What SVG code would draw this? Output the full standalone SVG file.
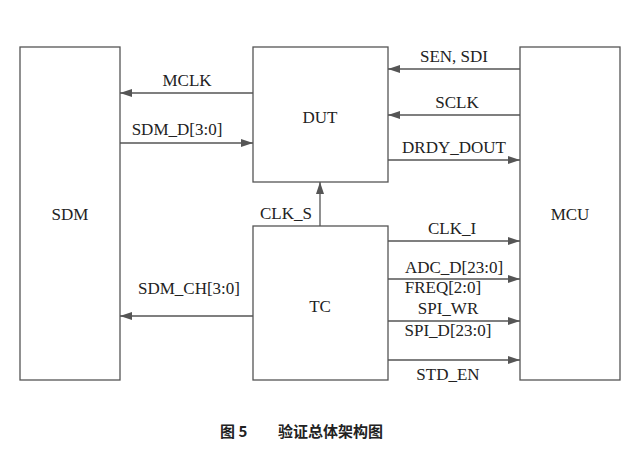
<svg xmlns="http://www.w3.org/2000/svg" width="634" height="476" viewBox="0 0 634 476">
<style>
.b{fill:#fff;stroke:#555;stroke-width:1.3}
.l{stroke:#555;stroke-width:1.3;fill:none;marker-end:url(#a)}
text{font-family:'Liberation Serif','Times New Roman','DejaVu Serif',serif;font-size:17px;fill:#222}
.c{text-anchor:middle}
.cap{font-family:'Noto Sans CJK SC',sans-serif;font-weight:bold;font-size:15px}
</style>
<defs><marker id="a" markerWidth="12" markerHeight="8" refX="12" refY="4" orient="auto" markerUnits="userSpaceOnUse"><path d="M0,0L12,4L0,8z" fill="#555"/></marker></defs>
<rect width="634" height="476" fill="#fff"/>
<g id="SDM"><rect class="b" x="20" y="47" width="100" height="333"/><text class="c" x="70" y="220">SDM</text></g>
<g id="DUT"><rect class="b" x="253" y="47" width="135" height="135"/><text class="c" x="320" y="123">DUT</text></g>
<g id="TC"><rect class="b" x="253" y="226" width="135" height="154"/><text class="c" x="320" y="312">TC</text></g>
<g id="MCU"><rect class="b" x="520" y="47" width="100" height="333"/><text class="c" x="570" y="220">MCU</text></g>
<g id="connectors">
<path class="l" d="M520,69H388"/><text class="c" x="454" y="62">SEN, SDI</text>
<path class="l" d="M520,115H388"/><text class="c" x="457" y="108">SCLK</text>
<path class="l" d="M388,160H520"/><text class="c" x="454" y="153">DRDY_DOUT</text>
<path class="l" d="M253,93H120"/><text class="c" x="187" y="86">MCLK</text>
<path class="l" d="M120,143H253"/><text class="c" x="177" y="135">SDM_D[3:0]</text>
<path class="l" d="M253,316H120"/><text class="c" x="189" y="294">SDM_CH[3:0]</text>
<path class="l" d="M320,226V182"/><text class="c" x="286" y="219">CLK_S</text>
<path class="l" d="M388,241H520"/><text class="c" x="452" y="234">CLK_I</text>
<path class="l" d="M388,279H520"/><text class="c" x="454" y="273">ADC_D[23:0]</text><text class="c" x="443" y="293">FREQ[2:0]</text>
<path class="l" d="M388,321H520"/><text class="c" x="448" y="314">SPI_WR</text><text class="c" x="448" y="336">SPI_D[23:0]</text>
<path class="l" d="M388,360H520"/><text class="c" x="448" y="380">STD_EN</text>
</g>
<text class="cap" x="220" y="437">图 5</text>
<text class="cap" x="278" y="437">验证总体架构图</text>
</svg>
